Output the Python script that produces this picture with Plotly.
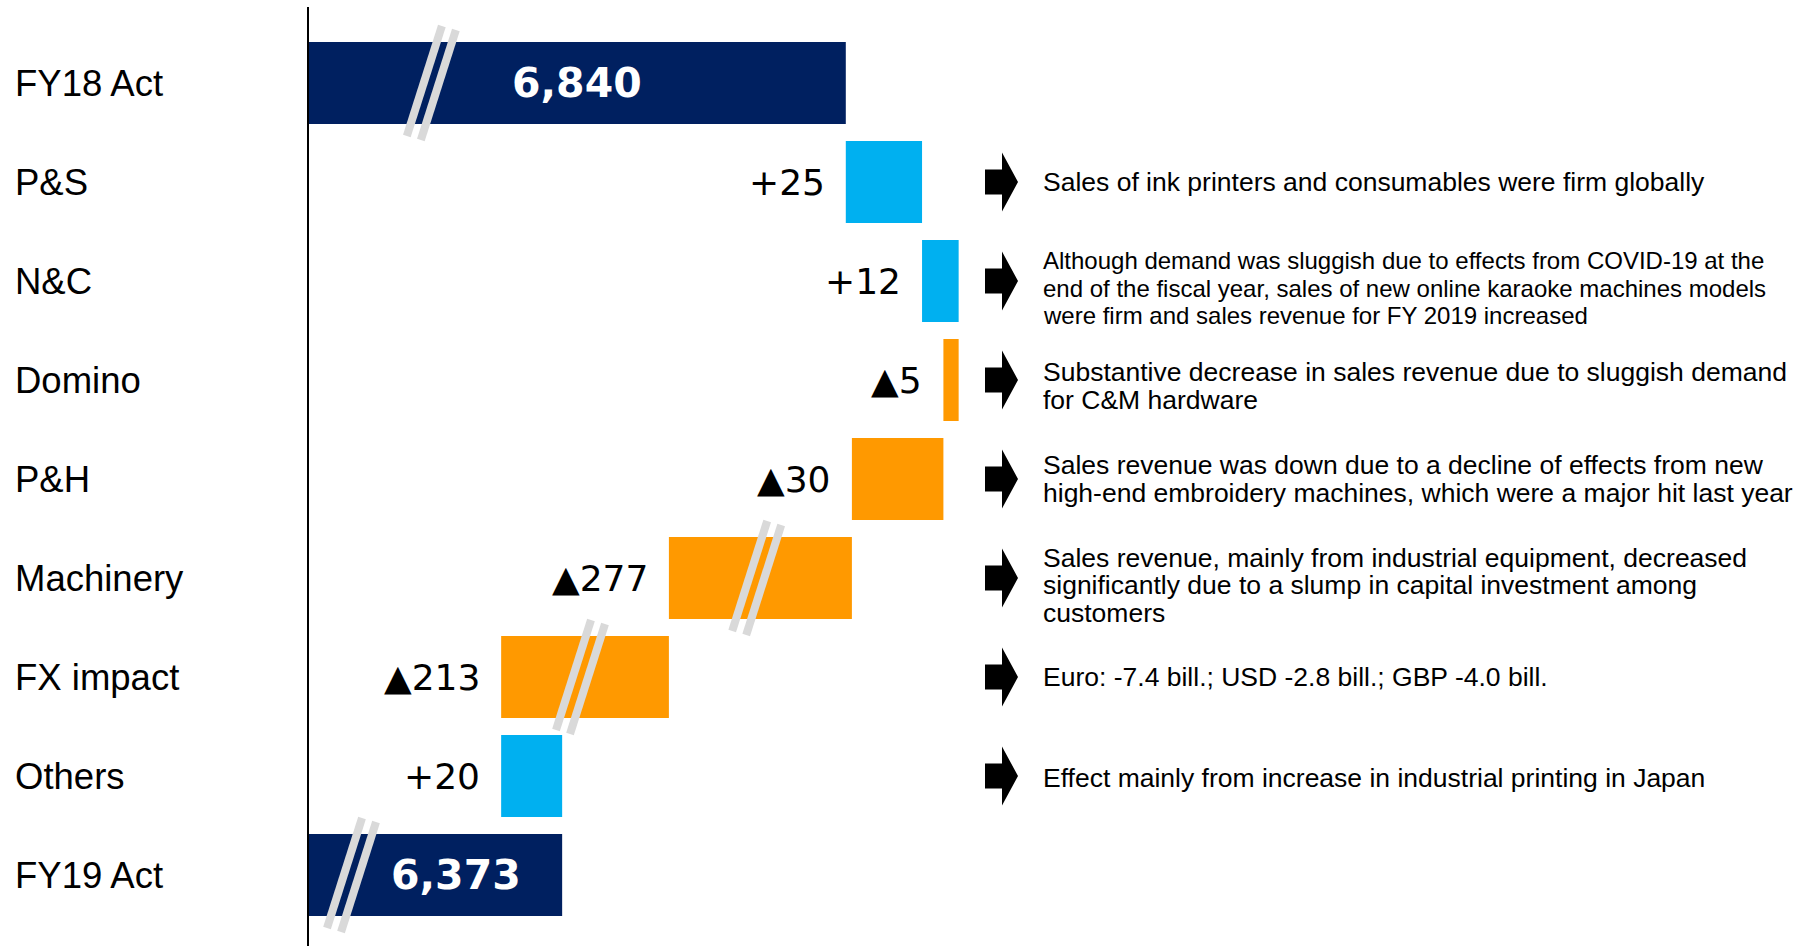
import plotly.graph_objects as go

# ---------------- data ----------------
categories = ["FY18 Act", "P&S", "N&C", "Domino", "P&H", "Machinery", "FX impact", "Others", "FY19 Act"]
measures = ["absolute", "relative", "relative", "relative", "relative", "relative", "relative", "relative", "total"]
values = [6840, 25, 12, -5, -30, -277, -213, 20, 6373]
value_labels = ["6,840", "+25", "+12", "▲5", "▲30", "▲277", "▲213", "+20", "6,373"]
# part of each value hidden by the axis break (// marks); FY19 total is derived
break_hidden = [6664, 0, 0, 0, 0, 217, 158, 0, 0]
comments = [
    [],
    ["Sales of ink printers and consumables were firm globally"],
    ["Although demand was sluggish due to effects from COVID-19 at the",
     "end of the fiscal year, sales of new online karaoke machines models",
     "were firm and sales revenue for FY 2019 increased"],
    ["Substantive decrease in sales revenue due to sluggish demand",
     "for C&M hardware"],
    ["Sales revenue was down due to a decline of effects from new",
     "high-end embroidery machines, which were a major hit last year"],
    ["Sales revenue, mainly from industrial equipment, decreased",
     "significantly due to a slump in capital investment among",
     "customers"],
    ["Euro: -7.4 bill.; USD -2.8 bill.; GBP -4.0 bill."],
    ["Effect mainly from increase in industrial printing in Japan"],
    [],
]

# ---------------- style ----------------
W, H = 1806, 946
PLOT_L, PLOT_T = 309, 7
PX_PER_UNIT = 3.05
NAVY, CYAN, ORANGE, BREAK_GREY = "#002060", "#00B0F0", "#FF9900", "#D9D9D9"
break_frac = {0: 0.227, 5: 0.477, 6: 0.47, 8: 0.166}
total_label_frac = {0: 0.5, 8: 0.58}
comment_size = {2: 24}
comment_spacing = {2: 27.5}
comment_drop = {2: 7, 3: 6, 5: 7, 7: 2}   # px downward nudge of comment blocks
ARROW_X_PX, TEXT_X_PX, CAT_X_PX = 985, 1041, 13
plot_w = W - PLOT_L

# running positions in displayed (axis-broken) units
starts, ends = [], []
running = 0.0
for m, v, cut in zip(measures, values, break_hidden):
    if m == "absolute":
        s, e = 0.0, v - cut
    elif m == "total":
        s, e = 0.0, running
    else:
        shown = (abs(v) - cut) * (1 if v > 0 else -1)
        s, e = running, running + shown
    running = e
    starts.append(s)
    ends.append(e)

lows = [min(s, e) for s, e in zip(starts, ends)]
lens = [abs(e - s) for s, e in zip(starts, ends)]
colors = [NAVY if m != "relative" else (CYAN if v > 0 else ORANGE) for m, v in zip(measures, values)]

fig = go.Figure(go.Bar(
    y=categories, x=lens, base=lows, orientation="h",
    marker=dict(color=colors, line=dict(width=0)),
    width=0.828, hoverinfo="skip",
))

annotations = []
shapes = []
for i, cat in enumerate(categories):
    # category label
    annotations.append(dict(
        xref="paper", yref="y", x=(CAT_X_PX - PLOT_L) / plot_w, y=cat,
        xanchor="left", yanchor="middle", text=cat, showarrow=False,
        font=dict(family="Liberation Sans, Arial", size=36.5, color="black"),
    ))
    # value label
    if measures[i] == "relative":
        annotations.append(dict(
            xref="x", yref="y", x=lows[i], y=cat, xanchor="right", yanchor="middle",
            xshift=-19, text=value_labels[i], showarrow=False,
            font=dict(family="DejaVu Sans, Verdana", size=36, color="black"),
        ))
    else:
        annotations.append(dict(
            xref="x", yref="y", x=lows[i] + total_label_frac[i] * lens[i], y=cat,
            xanchor="center", yanchor="middle", text=value_labels[i], showarrow=False,
            font=dict(family="DejaVu Sans, Verdana", size=41, color="white", weight="bold"),
        ))
    # comments and arrows
    lines = comments[i]
    if lines:
        n = len(lines)
        sp = comment_spacing.get(i, 27.5)
        drop = comment_drop.get(i, 0)
        for k, line in enumerate(lines):
            annotations.append(dict(
                xref="paper", yref="y", x=(TEXT_X_PX - PLOT_L) / plot_w, y=cat,
                xanchor="left", yanchor="middle", yshift=-(k - (n - 1) / 2) * sp - drop,
                text=line, showarrow=False,
                font=dict(family="Liberation Sans, Arial", size=comment_size.get(i, 26.5), color="black"),
            ))
        shapes.append(dict(
            type="path", xref="paper", yref="y",
            xsizemode="pixel", ysizemode="pixel",
            xanchor=(ARROW_X_PX - PLOT_L) / plot_w, yanchor=i,
            path="M0,12.5 L17,12.5 L17,29.5 L33,0 L17,-29.5 L17,-12.5 L0,-12.5 Z",
            fillcolor="black", line=dict(width=0),
        ))
    # axis-break marks
    if i in break_frac:
        xc = lows[i] + break_frac[i] * lens[i]
        for (x0, y0, x1, y1) in [(-24, -53, 11, 57), (-10, -57, 25, 53)]:
            shapes.append(dict(
                type="line", xref="x", yref="y",
                xsizemode="pixel", ysizemode="pixel", xanchor=xc, yanchor=i,
                x0=x0, y0=y0, x1=x1, y1=y1,
                line=dict(color=BREAK_GREY, width=8),
            ))

fig.update_layout(
    width=W, height=H,
    margin=dict(l=PLOT_L, r=0, t=PLOT_T, b=0, pad=0),
    paper_bgcolor="white", plot_bgcolor="white",
    showlegend=False,
    xaxis=dict(range=[0, plot_w / PX_PER_UNIT], visible=False),
    yaxis=dict(
        type="category", categoryorder="array", categoryarray=categories,
        range=[8.717, -0.768], showline=True, linecolor="black", linewidth=1.5,
        showticklabels=False, ticks="", showgrid=False, zeroline=False,
    ),
    annotations=annotations, shapes=shapes,
)

fig.write_html("out.html", config={"displayModeBar": False},
               post_script="document.body.style.margin='0';")
